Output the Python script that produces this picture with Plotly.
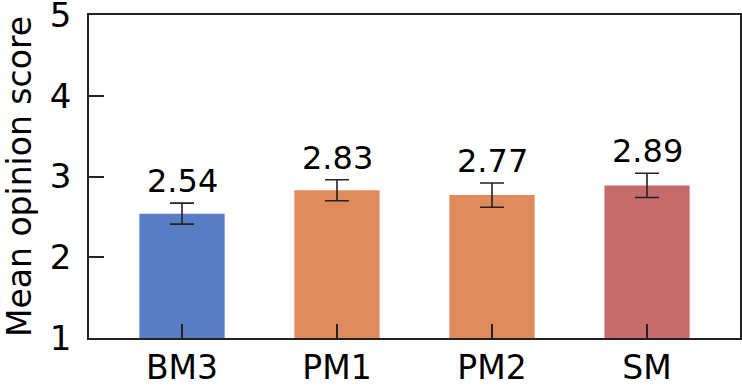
import plotly.graph_objects as go

categories = ["BM3", "PM1", "PM2", "SM"]
means = [2.54, 2.83, 2.77, 2.89]
errors = [0.13, 0.13, 0.15, 0.15]
colors = ["#587dc4", "#e08b5e", "#e08b5e", "#c66b6b"]
y_ticks = [1, 2, 3, 4, 5]

FONT = "DejaVu Sans"
AX = "#222222"

fig = go.Figure()
fig.add_trace(go.Bar(
    x=categories, y=[m - 1 for m in means], base=1,
    width=0.55,
    marker=dict(color=colors, line=dict(width=0)),
    error_y=dict(type="data", array=errors, visible=True,
                 color=AX, thickness=1.6, width=12),
    hoverinfo="skip",
))

for c, m, e in zip(categories, means, errors):
    fig.add_annotation(x=c, y=m + e, text=f"{m:.2f}", showarrow=False,
                       yanchor="bottom", yshift=1,
                       font=dict(family=FONT, size=32, color="black"))

fig.update_layout(
    width=742, height=389,
    margin=dict(l=89, r=2, t=15, b=51),
    plot_bgcolor="white", paper_bgcolor="white",
    showlegend=False,
    font=dict(family=FONT, size=33, color="black"),
    bargap=0.45,
)
fig.update_xaxes(
    range=[-0.6, 3.6], showline=True, linecolor=AX, linewidth=1.5, mirror=True,
    ticks="inside", ticklen=14, tickwidth=1.5, tickcolor=AX,
    tickfont=dict(family=FONT, size=33), showgrid=False, automargin=False,
)
fig.update_yaxes(
    range=[1, 5], tickvals=y_ticks, showline=True, linecolor=AX, linewidth=1.5,
    mirror=True, ticks="inside", ticklen=15, tickwidth=1.5, tickcolor=AX,
    tickfont=dict(family=FONT, size=34), showgrid=False, zeroline=False,
    automargin=False, ticklabeloverflow="allow", ticklabelstandoff=9,
    title=dict(text="Mean opinion score", font=dict(family=FONT, size=33), standoff=12),
)

fig.write_html("out.html", config={"displayModeBar": False},
               post_script="document.body.style.margin='0';")
